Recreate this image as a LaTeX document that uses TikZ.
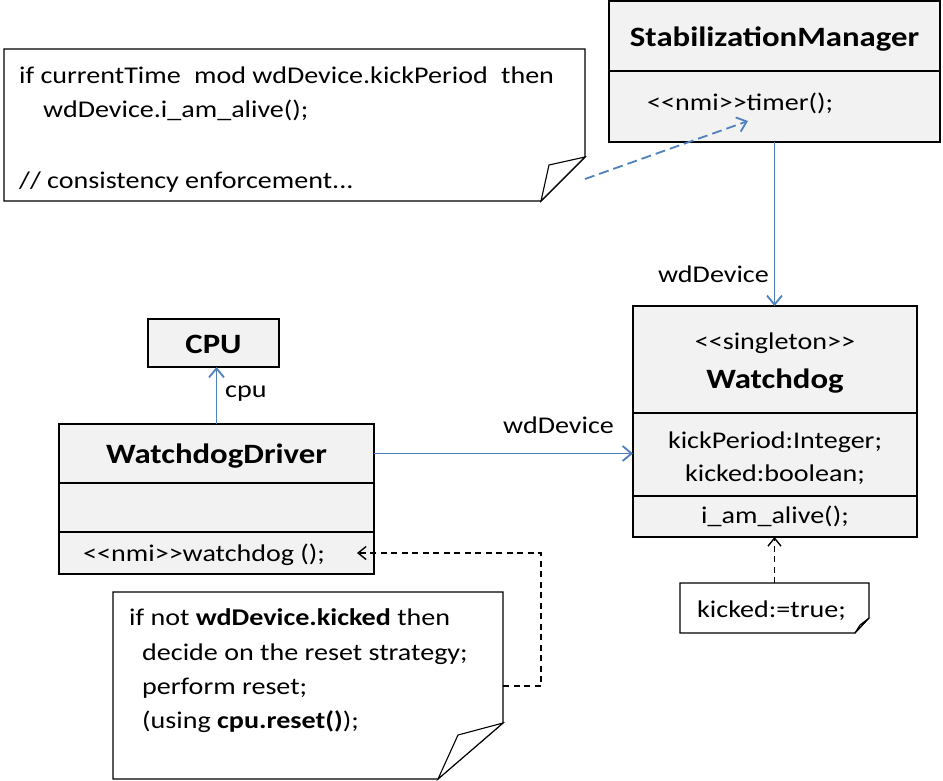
\documentclass[tikz,border=0pt]{standalone}
\usepackage{fontspec}
\setmainfont{Carlito}[FakeStretch=1.17]
\usetikzlibrary{arrows.meta}
\definecolor{umlblue}{RGB}{79,129,189}
\definecolor{boxfill}{RGB}{242,242,242}
\newcommand\dlt{<\kern0pt<}
\newcommand\dgt{>\kern0pt>}
\begin{document}
\begin{tikzpicture}[x=1pt,y=-1pt,
  comp/.style={draw=black, line width=1.1pt, fill=boxfill, inner sep=0pt, outer sep=0pt, anchor=north west},
  notearea/.style={inner sep=0pt, outer sep=0pt, anchor=north west},
  noteline/.style={draw=black, line width=1.1pt, fill=white, line join=miter},
  tx/.style={inner sep=0pt, font=\fontsize{24}{29}\selectfont},
  bx/.style={inner sep=0pt, font=\fontsize{28}{34}\selectfont\bfseries},
  assoc/.style={draw=umlblue, line width=1.8pt, -{Straight Barb[length=9pt,width=15pt,line width=1.8pt]}},
  assocdash/.style={draw=umlblue, line width=1.8pt, dash pattern=on 10pt off 5pt, -{Straight Barb[length=9pt,width=15pt,line width=1.8pt]}},
  depdash/.style={draw=black, line width=1.4pt, dash pattern=on 6pt off 4.5pt, -{Straight Barb[length=8pt,width=13pt,line width=1.4pt]}},
]
\useasboundingbox[fill=white] (0,0) rectangle (943,781);

% ---------- StabilizationManager ----------
\node[comp, minimum width=331pt, minimum height=70pt] (smT) at (609,1) {};
\node[comp, minimum width=331pt, minimum height=71pt] (smO) at (609,71) {};
\node[bx, anchor=base] (smName) at (774.5,47) {StabilizationManager};
\node[tx, anchor=base west] (smOp) at (647,111) {\dlt nmi\dgt timer();};

% ---------- Note 1 ----------
\node[notearea, minimum width=581pt, minimum height=152pt] (n1) at (4,49) {};
\draw[noteline] (n1.north west) -- (n1.north east) -- ([yshift=44pt]n1.south east)
  -- ([xshift=-44pt]n1.south east) -- (n1.south west) -- cycle;
\draw[noteline] ([yshift=44pt]n1.south east) -- (549,165) -- ([xshift=-44pt]n1.south east) -- cycle;
\node[tx, anchor=base west] (n1l1) at (19,84) {if currentTime\hspace{7pt} mod wdDevice.kickPeriod\hspace{7pt} then};
\node[tx, anchor=base west] (n1l2) at (43,118) {wdDevice.i\_am\_alive();};
\node[tx, anchor=base west] (n1l3) at (19,189) {// consistency enforcement...};

% ---------- Watchdog ----------
\node[comp, minimum width=284pt, minimum height=107pt] (wgT) at (633,306) {};
\node[comp, minimum width=284pt, minimum height=83pt] (wgA) at (633,413) {};
\node[comp, minimum width=284pt, minimum height=41pt] (wgO) at (633,496) {};
\node[tx, anchor=base] (wgSt) at (775,349) {\dlt singleton\dgt};
\node[bx, anchor=base] (wgName) at (775,388) {Watchdog};
\node[tx, anchor=base] (wgA1) at (775,448) {kickPeriod:Integer;};
\node[tx, anchor=base] (wgA2) at (775,481) {kicked:boolean;};
\node[tx, anchor=base] (wgOp) at (775,523) {i\_am\_alive();};

% ---------- kicked note ----------
\node[notearea, minimum width=189pt, minimum height=50pt] (kn) at (680,583) {};
\draw[noteline] (kn.north west) -- (kn.north east) -- ([yshift=15pt]kn.south east)
  -- ([xshift=-14pt]kn.south east) -- (kn.south west) -- cycle;
\draw[noteline] ([yshift=15pt]kn.south east) -- (860,625) -- ([xshift=-14pt]kn.south east) -- cycle;
\node[tx, anchor=base west] (knT) at (697,617) {kicked:=true;};

% ---------- CPU ----------
\node[comp, minimum width=131pt, minimum height=48pt] (cpu) at (148,319) {};
\node[bx, anchor=base] (cpuName) at (213.5,353) {CPU};

% ---------- WatchdogDriver ----------
\node[comp, minimum width=315pt, minimum height=59pt] (wdT) at (59,424) {};
\node[comp, minimum width=315pt, minimum height=49pt] (wdA) at (59,483) {};
\node[comp, minimum width=315pt, minimum height=42pt] (wdO) at (59,532) {};
\node[bx, anchor=base] (wdName) at (216.5,463) {WatchdogDriver};
\node[tx, anchor=base west] (wdOp) at (83,561) {\dlt nmi\dgt watchdog ();};

% ---------- Note 3 ----------
\node[notearea, minimum width=390pt, minimum height=187pt] (n3) at (113,592) {};
\draw[noteline] (n3.north west) -- (n3.north east) -- ([yshift=56pt]n3.south east)
  -- ([xshift=-65pt]n3.south east) -- (n3.south west) -- cycle;
\draw[noteline] ([yshift=56pt]n3.south east) -- (458,735) -- ([xshift=-65pt]n3.south east) -- cycle;
\node[tx, anchor=base west] (n3l1) at (129,625) {if not \textbf{wdDevice.kicked} then};
\node[tx, anchor=base west] (n3l2) at (142,660) {decide on the reset strategy;};
\node[tx, anchor=base west] (n3l3) at (142,694) {perform reset;};
\node[tx, anchor=base west] (n3l4) at (142,728) {(using \textbf{cpu.reset()});};

% ---------- connectors ----------
\draw[assoc] (smO.south) -- (smO.south |- wgT.north);
\node[tx, anchor=base east] (lblSM) at (769,282) {wdDevice};

\coordinate (n1a) at (585,179);
\coordinate (tmr) at (748,121);
\draw[assocdash] (n1a) -- (tmr);

\draw[assoc] (wdT.east) -- (wdT.east -| wgA.west);
\node[tx, anchor=base west] (lblWD) at (503,433) {wdDevice};

\draw[assoc] (wdT.north) -- (wdT.north |- cpu.south);
\node[tx, anchor=base west] (lblCPU) at (225,397) {cpu};

\draw[depdash] (kn.north) -- (kn.north |- wgO.south);

\coordinate (n3a) at (503,686);
\coordinate (wdArr) at (357,553);
\draw[depdash] (n3a) -- ++(38,0) |- (wdArr);
\end{tikzpicture}
\end{document}
